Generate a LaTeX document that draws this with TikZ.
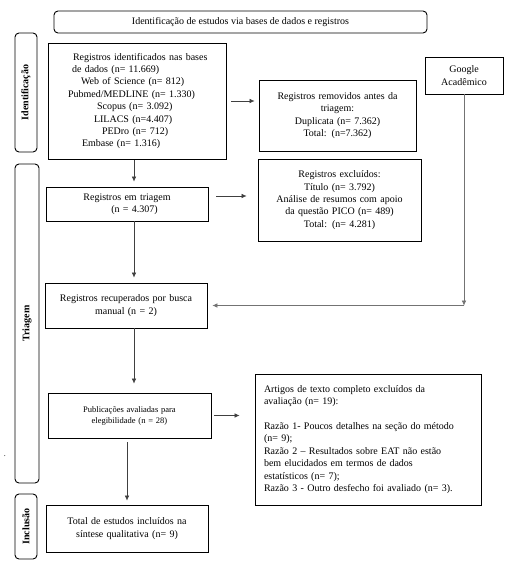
\documentclass[tikz,border=0pt]{standalone}
\usepackage{fontspec}
\setmainfont{Liberation Serif}
\usetikzlibrary{arrows.meta}
\tikzset{
  box/.style={draw, line width=0.9pt, inner sep=0pt, font=\fontsize{10}{12.4}\selectfont, align=center},
  side/.style={draw, rounded corners=4pt, line width=0.9pt, inner sep=0pt, rotate=90, font=\fontsize{10}{12}\selectfont\bfseries},
  arr/.style={-{Latex[length=5pt,width=4.5pt]}, line width=0.5pt, draw=black!75},
}
\begin{document}
\begin{tikzpicture}[x=1pt,y=-1pt]
\useasboundingbox[fill=white] (0,0) rectangle (517,575);

\node[box, rounded corners=4pt, minimum width=373pt, minimum height=22pt] (head) at (240.5,22)
  {Identificação de estudos via bases de dados e registros};

\node[side, minimum width=119pt, minimum height=22pt] (sid) at (26,92.5) {Identificação};
\node[side, minimum width=319pt, minimum height=24pt] (stri) at (27,323.5) {Triagem};
\node[side, minimum width=65pt, minimum height=22pt] (sinc) at (26,526.5) {Inclusão};

\node[box, align=left, text width=178pt, minimum width=178pt, minimum height=116pt] (ident) at (137,101)
  {\hspace*{25pt}Registros identificados nas bases\\
   \hspace*{24pt}de dados (n= 11.669)\\
   \hspace*{33pt}Web of Science (n= 812)\\
   \hspace*{20pt}Pubmed/MEDLINE (n= 1.330)\\
   \hspace*{49pt}Scopus (n= 3.092)\\
   \hspace*{46pt}LILACS (n=4.407)\\
   \hspace*{54pt}PEDro (n= 712)\\
   \hspace*{34pt}Embase (n= 1.316)};

\node[box, text width=157pt, minimum width=157pt, minimum height=71pt] (rem) at (337.5,115.5)
  {Registros removidos antes da\\ triagem:\\ Duplicata (n= 7.362)\\ Total: (n=7.362)};

\node[box, text width=78pt, minimum width=78pt, minimum height=37pt] (google) at (464,75.5)
  {Google\\ Acadêmico};

\node[box, text width=162pt, minimum width=162pt, minimum height=34pt] (tri) at (127,204)
  {Registros em triagem\\ \hspace*{15pt}(n = 4.307)};

\node[box, text width=163pt, minimum width=163pt, minimum height=82pt] (exc) at (339.5,200)
  {Registros excluídos:\\ Título (n= 3.792)\\ Análise de resumos com apoio\\ da questão PICO (n= 489)\\ Total: (n= 4.281)};

\node[box, text width=162pt, minimum width=162pt, minimum height=45pt] (rec) at (126,305.5)
  {Registros recuperados por busca\\ manual (n = 2)};

\node[box, font=\fontsize{8.5}{11}\selectfont, text width=163pt, minimum width=163pt, minimum height=45pt] (pub) at (129.5,415.5)
  {Publicações avaliadas para\\ elegibilidade (n = 28)};

\node[box, align=left, inner xsep=9pt, text width=208pt, minimum width=226pt, minimum height=131pt] (art) at (368,439.5)
  {Artigos de texto completo excluídos da\\
   avaliação (n= 19):\\[12.4pt]
   Razão 1- Poucos detalhes na seção do método\\
   (n= 9);\\
   Razão 2 – Resultados sobre EAT não estão\\
   bem elucidados em termos de dados\\
   estatísticos (n= 7);\\
   Razão 3 - Outro desfecho foi avaliado (n= 3).};

\node[box, text width=162pt, minimum width=162pt, minimum height=47pt] (tot) at (127,528.5)
  {Total de estudos incluídos na\\ síntese qualitativa (n= 9)};

\node[font=\fontsize{8}{8}\selectfont, inner sep=0pt] (dot) at (5,456) {.};

% connectors
\draw[arr, shorten <=5pt, shorten >=4pt] (ident.east) -- (ident.east -| rem.west);
\draw[arr, shorten <=1pt, shorten >=5pt] ([xshift=-3pt]ident.south) -- ([xshift=-3pt]ident.south |- tri.north);
\draw[arr, shorten <=8pt, shorten >=11pt] ([yshift=8pt]tri.east) -- ([yshift=8pt]tri.east -| exc.west);
\draw[arr, shorten >=5pt] ([xshift=7pt]tri.south) -- ([xshift=7pt]tri.south |- rec.north);
\draw[arr, shorten >=9pt] ([xshift=8pt]rec.south) -- ([xshift=8pt]rec.south |- pub.north);
\draw[arr, shorten <=3pt, shorten >=15pt] (pub.east) -- (pub.east -| art.west);
\draw[arr, shorten <=4pt, shorten >=4pt] (pub.south -| tot.north) -- (tot.north);
\coordinate (gc) at (google.south |- rec.east);
\draw[arr, draw=black!55] (google.south) -- (gc);
\draw[arr, draw=black!55, shorten >=5pt] (gc) -- (rec.east);
\end{tikzpicture}
\end{document}
